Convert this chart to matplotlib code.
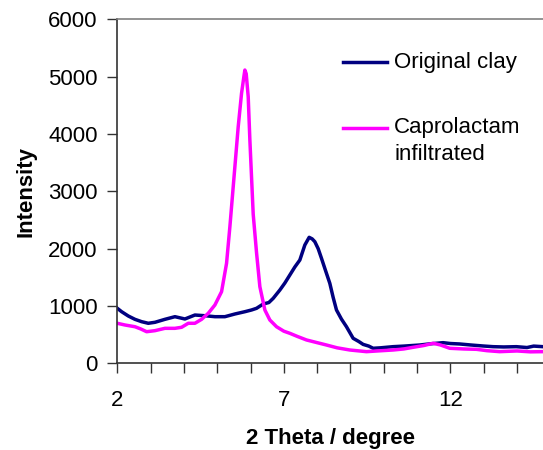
import matplotlib
matplotlib.use("Agg")
import matplotlib.pyplot as plt
from matplotlib.lines import Line2D
from matplotlib.ticker import MultipleLocator, FixedLocator

plt.rcParams['font.family'] = ['Liberation Sans', 'DejaVu Sans']

# Original clay
navy_x = [2.0, 2.13, 2.33, 2.53, 2.73, 2.93, 3.13, 3.43, 3.73, 4.03, 4.33, 4.63, 4.93, 5.23, 5.53,
          5.83, 6.03, 6.18, 6.38, 6.55, 6.68, 6.88, 7.03, 7.18, 7.33, 7.48, 7.63, 7.76, 7.85, 7.93,
          8.03, 8.13, 8.25, 8.38, 8.48, 8.58, 8.73, 8.88, 9.08, 9.25, 9.38, 9.55, 9.68, 9.9, 10.28,
          10.6, 11.08, 11.4, 11.78, 12.0, 12.28, 12.6, 12.98, 13.28, 13.6, 13.98, 14.3, 14.5, 14.78]
navy_y = [959, 900, 825, 767, 726, 698, 715, 767, 813, 773, 842, 830, 813, 813, 860,
          900, 930, 959, 1034, 1060, 1133, 1278, 1400, 1540, 1680, 1801, 2063, 2197, 2170, 2121,
          2000, 1831, 1620, 1395, 1150, 930, 770, 638, 436, 380, 330, 300, 262, 270, 290,
          300, 319, 340, 360, 345, 337, 320, 302, 290, 285, 290, 275, 300, 290]

# Caprolactam infiltrated
mag_x = [2.0, 2.23, 2.53, 2.7, 2.88, 3.13, 3.43, 3.73, 3.93, 4.13, 4.33, 4.53, 4.73, 4.93, 5.13,
         5.28, 5.38, 5.53, 5.63, 5.73, 5.8, 5.83, 5.87, 5.93, 5.98, 6.08, 6.18, 6.28, 6.43, 6.58,
         6.78, 7.0, 7.18, 7.4, 7.68, 8.0, 8.28, 8.6, 8.98, 9.48, 9.8, 10.28, 10.6, 10.88, 11.2,
         11.48, 11.7, 11.98, 12.4, 12.78, 13.1, 13.48, 14.0, 14.4, 14.78]
mag_y = [698, 668, 638, 600, 551, 569, 610, 610, 628, 698, 698, 767, 872, 1017, 1249,
         1744, 2383, 3429, 4127, 4709, 5000, 5115, 5050, 4650, 3894, 2600, 1930, 1336, 930, 755,
         638, 560, 523, 470, 407, 360, 319, 270, 232, 203, 215, 232, 250, 279, 310,
         349, 320, 262, 250, 244, 220, 203, 215, 200, 203]

x_tick_labels = [2, 7, 12]
series_labels = ["Original clay", "Caprolactam\ninfiltrated"]
colors = ["#000080", "#FF00FF"]

fig = plt.figure(figsize=(5.43, 4.5), dpi=100)
W, H = 543 - 117.3, 344.0
ax = fig.add_axes([117.3 / 543, 1 - 363.3 / 450, W / 543, H / 450])

ax.plot(navy_x, navy_y, color=colors[0], lw=2.5, solid_joinstyle='round')
ax.plot(mag_x, mag_y, color=colors[1], lw=2.5, solid_joinstyle='round')

ax.set_xlim(2, 14.78)
ax.set_ylim(0, 6000)
ax.xaxis.set_major_locator(FixedLocator(x_tick_labels))
ax.xaxis.set_minor_locator(MultipleLocator(1))
ax.yaxis.set_major_locator(MultipleLocator(1000))

ax.tick_params(axis='x', which='both', direction='out', length=7, width=1, colors='#333333',
               labelcolor='black', labelsize=16, pad=12)
ax.tick_params(axis='y', which='major', direction='out', length=7, width=1, colors='#333333',
               labelcolor='black', labelsize=16, pad=7)

for s in ['left', 'bottom']:
    ax.spines[s].set_color('#333333')
    ax.spines[s].set_linewidth(1.2)
ax.spines['top'].set_color('#808080')
ax.spines['top'].set_linewidth(1.2)
ax.spines['right'].set_visible(False)

ax.set_ylabel("Intensity", fontsize=16, fontweight='bold')
ax.yaxis.set_label_coords(-(117.3 - 36) / W, 0.5)
ax.set_xlabel("2 Theta / degree", fontsize=16, fontweight='bold')
ax.xaxis.set_label_coords(0.5, -(428 - 363.3) / H)

# legend (manual, handle aligned to first text line)
def fx(px):
    return (px - 117.3) / W
def fy(py):
    return 1 - (py - 19.3) / H

leg_rows = [62, 127.5]
for lab, c, py in zip(series_labels, colors, leg_rows):
    ax.add_line(Line2D([fx(343), fx(387)], [fy(py), fy(py)], transform=ax.transAxes,
                       color=c, lw=2.5, clip_on=False))
    if '\n' in lab:
        ax.text(fx(394), fy(py - 11), lab, transform=ax.transAxes, fontsize=16,
                va='top', ha='left', linespacing=1.4)
    else:
        ax.text(fx(394), fy(py), lab, transform=ax.transAxes, fontsize=16,
                va='center', ha='left')

fig.savefig("out.png", dpi=100)
